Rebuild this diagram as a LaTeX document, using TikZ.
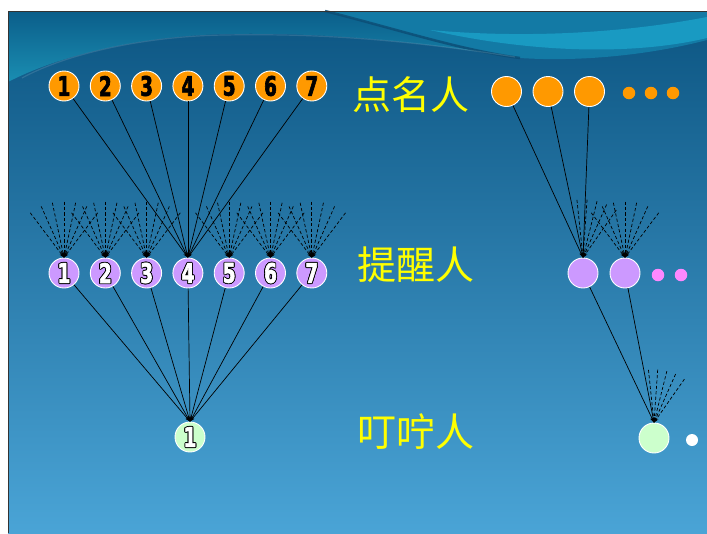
\documentclass[tikz,border=0pt]{standalone}
\usepackage{fontspec}
\usetikzlibrary{arrows.meta,calc}
\newfontfamily\cjk{Noto Sans CJK SC}
\newfontfamily\numfont{DejaVu Sans}[FakeStretch=0.68,FakeBold=2.2]
\definecolor{bgtop}{HTML}{0C5582}
\definecolor{bgmid}{HTML}{2A7DB2}
\definecolor{bgbot}{HTML}{4AA4D6}
\definecolor{tealA}{HTML}{1A8EB2}
\definecolor{tealAt}{HTML}{0B5E8A}
\definecolor{tealB}{HTML}{137AA5}
\definecolor{cyanB}{HTML}{1BA2CA}
\definecolor{darkline}{HTML}{0C4C74}
\definecolor{orng}{HTML}{FF9900}
\definecolor{lav}{HTML}{CC99FF}
\definecolor{pinkd}{HTML}{FF88FF}
\definecolor{mint}{HTML}{CCFFCC}
\definecolor{yel}{HTML}{FFFF00}
\newcommand\oc[3]{\rlap{\kern#1\raisebox{#2}{\color{black}#3}}}
\newcommand\outnum[1]{\oc{-0.9pt}{0pt}{#1}\oc{0.9pt}{0pt}{#1}\oc{0pt}{0.9pt}{#1}\oc{0pt}{-0.9pt}{#1}\oc{-0.65pt}{0.65pt}{#1}\oc{0.65pt}{0.65pt}{#1}\oc{-0.65pt}{-0.65pt}{#1}\oc{0.65pt}{-0.65pt}{#1}{\color{white}#1}}
\begin{document}
\begin{tikzpicture}[x=1pt,y=-1pt,
  circ/.style={circle,draw=white,line width=0.9pt,minimum size=30pt,inner sep=0pt,
    font=\numfont\bfseries\fontsize{27}{27}\selectfont},
  topc/.style={circ,fill=orng,text=black},
  midc/.style={circ,fill=lav},
  botc/.style={circ,fill=mint},
  dot/.style={circle,inner sep=0pt,minimum size=#1},
  arr/.style={line width=0.7pt,-{Stealth[length=5pt,width=3.5pt]}},
  darr/.style={arr,dash pattern=on 3.2pt off 2.2pt},
  lab/.style={text=yel,font=\cjk\fontsize{39}{39}\selectfont,inner sep=0pt}]
\useasboundingbox (0,0) rectangle (707,533);
\fill[white] (0,0) rectangle (707,533);
% background
\shade[top color=bgtop,middle color=bgmid,bottom color=bgbot] (8,11) rectangle (707,533);
\shade[top color=tealAt,bottom color=tealA] (8,11) -- (325,11)
  .. controls (400,30) and (460,50) .. (520,58)
  .. controls (420,42) and (330,32) .. (225,34)
  .. controls (140,36) and (60,55) .. (8,82) -- cycle;
\fill[tealB] (325,11) -- (707,11) -- (707,40)
  .. controls (650,55) and (580,62) .. (520,58)
  .. controls (460,50) and (400,30) .. (325,11) -- cycle;
\fill[cyanB,opacity=0.8] (430,30) .. controls (540,40) and (640,30) .. (707,17)
  -- (707,38) .. controls (640,54) and (540,55) .. (430,30) -- cycle;
\draw[darkline,line width=2.5pt,opacity=0.8] (325,11) .. controls (400,30) and (460,50) .. (520,58);
\draw[white,opacity=0.12,line width=1.2pt] (22,78) .. controls (70,52) and (150,36) .. (225,35)
  .. controls (330,33) and (420,42) .. (515,57);
\draw[black!80,line width=0.8pt] (8,533) -- (8,11) -- (707,11);
% left group nodes
\foreach \i [evaluate=\i as \x using 64+41.3*(\i-1)] in {1,...,7}{
  \node[topc] (t\i) at (\x,86) {\i};
  \node[midc] (m\i) at (\x,273) {\outnum{\i}};
}
\node[botc] (b1) at (190,437) {\outnum{1}};
% labels
\node[lab] (l1) at (411,95) {点名人};
\node[lab] (l2) at (416,265) {提醒人};
\node[lab] (l3) at (416,432) {叮咛人};
% right group nodes
\node[circ,fill=orng] (r1) at (506.5,91.5) {};
\node[circ,fill=orng] (r2) at (548,91.5) {};
\node[circ,fill=orng] (r3) at (589.5,91.5) {};
\node[dot=12.5pt,fill=orng] (od1) at (629,93) {};
\node[dot=12.5pt,fill=orng] (od2) at (651,93) {};
\node[dot=12.5pt,fill=orng] (od3) at (673,93) {};
\node[circ,fill=lav] (s1) at (583,273) {};
\node[circ,fill=lav] (s2) at (625,273) {};
\node[dot=12.5pt,fill=pinkd] (pd1) at (658,275) {};
\node[dot=12.5pt,fill=pinkd] (pd2) at (681,275) {};
\node[circ,fill=mint] (rb) at (654,438) {};
\node[dot=12pt,fill=white] (wd) at (692,440) {};
% dashed fans, left
\foreach \i in {1,2,3,5,6,7}{
  \foreach \a [count=\k] in {-37,-24,-12,0,12,24,37}{
    \coordinate (f\i-\k) at ($(m\i.north)+(270+\a:56)$);
    \draw[darr] (f\i-\k) -- (m\i.north);
  }
}
% dashed fans, right
\foreach \a [count=\k] in {-37,-24,-12,0,12,24,37}{
  \coordinate (g2-\k) at ($(s2.north)+(270+\a:56)$);
  \draw[darr] (g2-\k) -- (s2.north);
}
\foreach \a [count=\k] in {-6,4,14,24,35}{
  \coordinate (g1-\k) at ($(s1.north)+(270+\a:58)$);
  \draw[darr] (g1-\k) -- (s1.north);
  \coordinate (h-\k) at ($(rb.north)+(270+\a:53)$);
  \draw[darr] (h-\k) -- (rb.north);
}
% solid connectors
\foreach \i in {1,...,7}{
  \draw[arr] (t\i) -- (m4.north);
  \draw[arr] (m\i) -- (b1.north);
}
\foreach \i in {1,2,3}{ \draw[arr] (r\i) -- (s1.north); }
\foreach \i in {1,2}{ \draw[arr] (s\i) -- (rb.north); }
\end{tikzpicture}
\end{document}
